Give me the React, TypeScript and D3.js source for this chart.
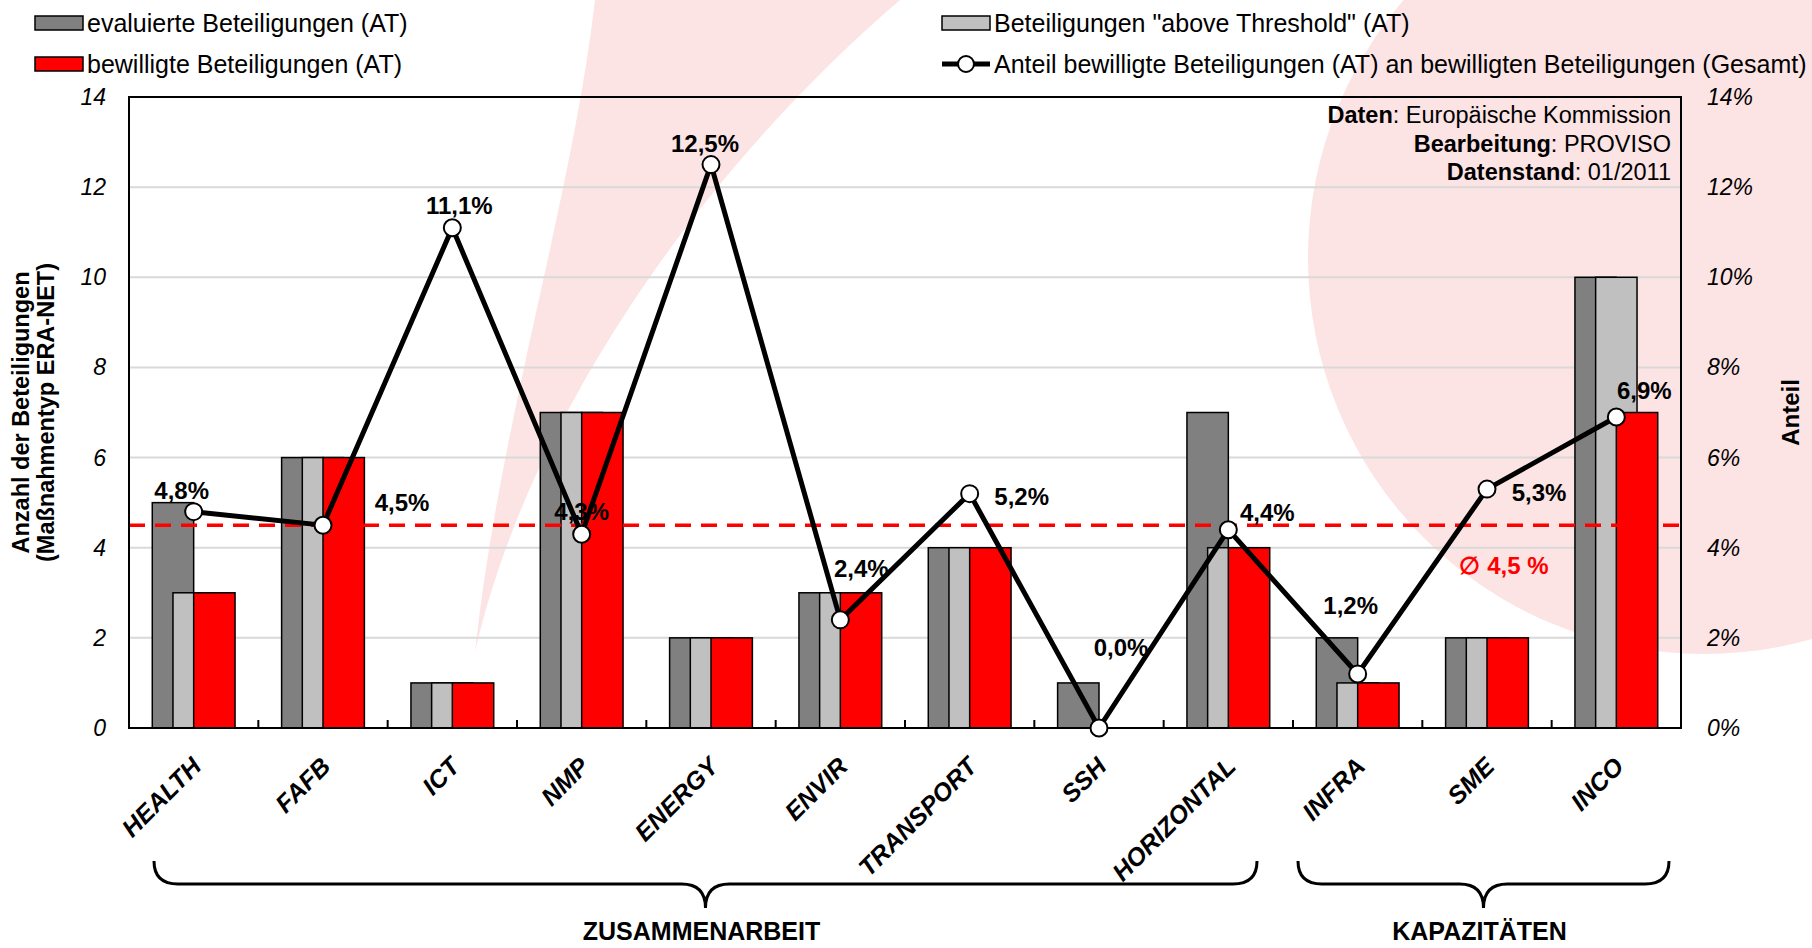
import React from "react";
import * as d3 from "d3";

const categories = ["HEALTH", "FAFB", "ICT", "NMP", "ENERGY", "ENVIR", "TRANSPORT", "SSH", "HORIZONTAL", "INFRA", "SME", "INCO"];
const evaluiert = [5, 6, 1, 7, 2, 3, 4, 1, 7, 2, 2, 10];
const aboveThreshold = [3, 6, 1, 7, 2, 3, 4, 0, 4, 1, 2, 10];
const bewilligt = [3, 6, 1, 7, 2, 3, 4, 0, 4, 1, 2, 7];
const anteil = [4.8, 4.5, 11.1, 4.3, 12.5, 2.4, 5.2, 0.0, 4.4, 1.2, 5.3, 6.9];
const durchschnitt = 4.5;
const leftTicks = [0, 2, 4, 6, 8, 10, 12, 14];
const rightTicks = [0, 2, 4, 6, 8, 10, 12, 14];
const groups = [
  { name: "ZUSAMMENARBEIT", first: "HEALTH", last: "HORIZONTAL" },
  { name: "KAPAZITÄTEN", first: "INFRA", last: "INCO" },
];

// label nudges (px) so the percent labels sit where the original has them
const labelOffsets = [
  [-12, -21], [79, -23], [7, -22], [0, -23], [-6, -21], [21, -51],
  [52, 3], [22, -81], [39, -17], [-7, -68], [52, 3], [28, -27],
];
const bracePad = [
  [25, 36],
  [5, 12],
];

const W = 1812;
const H = 948;
const margin = { top: 97, right: 131, bottom: 220, left: 129 };
const font = "'Liberation Sans', Arial, sans-serif";
const pink = "#FCE3E4";

function fmt(v: number) {
  return v.toFixed(1).replace(".", ",") + "%";
}

function bracePath(x0: number, x1: number, yTop: number, yMid: number, yTip: number) {
  const xc = (x0 + x1) / 2;
  const r = 24;
  const p = d3.path();
  p.moveTo(x0, yTop);
  p.quadraticCurveTo(x0, yMid, x0 + r, yMid);
  p.lineTo(xc - r, yMid);
  p.quadraticCurveTo(xc, yMid, xc, yTip);
  p.quadraticCurveTo(xc, yMid, xc + r, yMid);
  p.lineTo(x1 - r, yMid);
  p.quadraticCurveTo(x1, yMid, x1, yTop);
  return p.toString();
}

export default function App() {
  const x = d3
    .scaleBand<string>()
    .domain(categories)
    .range([margin.left, W - margin.right])
    .paddingInner(0)
    .paddingOuter(0);
  const bw = x.bandwidth();
  const barW = bw * 0.32;
  const step = barW / 2;

  const yL = d3.scaleLinear().domain([0, 14]).range([H - margin.bottom, margin.top]);
  const yR = d3.scaleLinear().domain([0, 14]).range([H - margin.bottom, margin.top]);

  const cx = (c: string) => (x(c) as number) + bw / 2;

  const line = d3
    .line<number>()
    .x((_, i) => cx(categories[i]))
    .y((d) => yR(d));

  const series = [
    { values: evaluiert, color: "#808080", off: -step },
    { values: aboveThreshold, color: "#C0C0C0", off: 0 },
    { values: bewilligt, color: "#FF0000", off: step },
  ];

  const plotL = margin.left;
  const plotR = W - margin.right;
  const plotT = margin.top;
  const plotB = H - margin.bottom;

  // background swoosh (crescent) and big disc
  const swoosh = "M595,0 C572,200 500,420 475,652 C525,430 690,180 900,0 Z";

  return (
    <svg
      width={W}
      height={H}
      style={{ position: "absolute", left: 0, top: 0, display: "block", background: "#fff" }}
      fontFamily={font}
    >
      <path d={swoosh} fill={pink} />
      <circle cx={1704} cy={258} r={396} fill={pink} />

      {/* gridlines */}
      {leftTicks.slice(1, -1).map((t) => (
        <line key={t} x1={plotL} x2={plotR} y1={yL(t)} y2={yL(t)} stroke="#D9D9D9" strokeWidth={2} />
      ))}

      {/* bars */}
      {series.map((s, si) =>
        s.values.map((v, i) =>
          v > 0 ? (
            <rect
              key={si + "-" + i}
              x={cx(categories[i]) + s.off - barW / 2}
              y={yL(v)}
              width={barW}
              height={yL(0) - yL(v)}
              fill={s.color}
              stroke="#000"
              strokeWidth={1.5}
            />
          ) : null
        )
      )}

      {/* x ticks */}
      {categories.slice(1).map((c) => (
        <line key={c} x1={x(c)} x2={x(c)} y1={plotB} y2={plotB - 8} stroke="#000" strokeWidth={2} />
      ))}

      {/* average line */}
      <line
        x1={plotL}
        x2={plotR}
        y1={yL(durchschnitt)}
        y2={yL(durchschnitt)}
        stroke="#FF0000"
        strokeWidth={3.5}
        strokeDasharray="16 10"
      />
      <text x={1504} y={565} fill="#FF0000" fontWeight="bold" fontSize={24} textAnchor="middle" dominantBaseline="central">
        {"∅ " + durchschnitt.toFixed(1).replace(".", ",") + " %"}
      </text>

      {/* plot border */}
      <rect x={plotL} y={plotT} width={plotR - plotL} height={plotB - plotT} fill="none" stroke="#000" strokeWidth={2} />

      {/* share line */}
      <path d={line(anteil) || ""} fill="none" stroke="#000" strokeWidth={5} strokeLinejoin="miter" />
      {anteil.map((v, i) => (
        <circle key={i} cx={cx(categories[i])} cy={yR(v)} r={8.5} fill="#fff" stroke="#000" strokeWidth={2} />
      ))}
      {anteil.map((v, i) => (
        <text
          key={i}
          x={cx(categories[i]) + labelOffsets[i][0]}
          y={yR(v) + labelOffsets[i][1]}
          fontSize={24}
          fontWeight="bold"
          textAnchor="middle"
          dominantBaseline="central"
        >
          {fmt(v)}
        </text>
      ))}

      {/* source note */}
      {[
        ["Daten", ": Europäische Kommission"],
        ["Bearbeitung", ": PROVISO"],
        ["Datenstand", ": 01/2011"],
      ].map((r, i) => (
        <text key={i} x={plotR - 10} y={123 + i * 28.5} fontSize={23.5} textAnchor="end">
          <tspan fontWeight="bold">{r[0]}</tspan>
          <tspan>{r[1]}</tspan>
        </text>
      ))}

      {/* left axis */}
      {leftTicks.map((t) => (
        <text key={t} x={106} y={yL(t)} fontSize={23} fontStyle="italic" textAnchor="end" dominantBaseline="central">
          {t}
        </text>
      ))}
      <text transform={`translate(21,${(plotT + plotB) / 2}) rotate(-90)`} fontSize={23.5} fontWeight="bold" textAnchor="middle" dominantBaseline="central">
        Anzahl der  Beteiligungen
      </text>
      <text transform={`translate(46,${(plotT + plotB) / 2}) rotate(-90)`} fontSize={23.5} fontWeight="bold" textAnchor="middle" dominantBaseline="central">
        (Maßnahmentyp ERA-NET)
      </text>

      {/* right axis */}
      {rightTicks.map((t) => (
        <text key={t} x={1707} y={yR(t)} fontSize={23} fontStyle="italic" textAnchor="start" dominantBaseline="central">
          {t + "%"}
        </text>
      ))}
      <text transform={`translate(1790,${(plotT + plotB) / 2}) rotate(-90)`} fontSize={24} fontWeight="bold" textAnchor="middle" dominantBaseline="central">
        Anteil
      </text>

      {/* category labels */}
      {categories.map((c) => (
        <text
          key={c}
          transform={`translate(${cx(c) + 9},${plotB + 40}) rotate(-45)`}
          fontSize={25}
          fontWeight="bold"
          fontStyle="italic"
          textAnchor="end"
        >
          {c}
        </text>
      ))}

      {/* group braces */}
      {groups.map((g, gi) => {
        const x0 = (x(g.first) as number) + bracePad[gi][0];
        const x1 = (x(g.last) as number) + bw - bracePad[gi][1];
        return (
          <g key={g.name}>
            <path d={bracePath(x0, x1, 861, 884, 908)} fill="none" stroke="#000" strokeWidth={3} />
            <text x={(x0 + x1) / 2 - 4} y={940} fontSize={25} fontWeight="bold" textAnchor="middle">
              {g.name}
            </text>
          </g>
        );
      })}

      {/* legend */}
      <rect x={35} y={16} width={48} height={14} fill="#808080" stroke="#000" strokeWidth={1.5} />
      <text x={87} y={23} fontSize={25} dominantBaseline="central">evaluierte Beteiligungen (AT)</text>
      <rect x={35} y={57} width={48} height={14} fill="#FF0000" stroke="#000" strokeWidth={1.5} />
      <text x={87} y={64} fontSize={25} dominantBaseline="central">bewilligte Beteiligungen (AT)</text>
      <rect x={942} y={16} width={48} height={14} fill="#C0C0C0" stroke="#000" strokeWidth={1.5} />
      <text x={994} y={23} fontSize={25} dominantBaseline="central">Beteiligungen "above Threshold"  (AT)</text>
      <line x1={942} x2={990} y1={64} y2={64} stroke="#000" strokeWidth={5} />
      <circle cx={966} cy={64} r={8} fill="#fff" stroke="#000" strokeWidth={2} />
      <text x={994} y={64} fontSize={25} dominantBaseline="central">Anteil bewilligte Beteiligungen (AT)  an bewilligten Beteiligungen (Gesamt)</text>
    </svg>
  );
}
